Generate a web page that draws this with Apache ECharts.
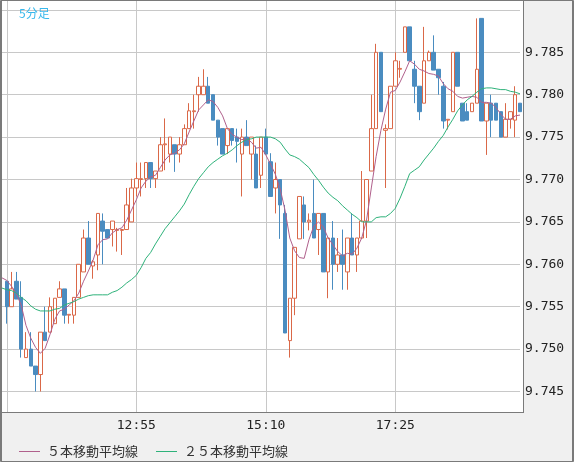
<!DOCTYPE html>
<html>
<head>
<meta charset="utf-8">
<script src="https://cdn.jsdelivr.net/npm/echarts@6/dist/echarts.min.js"></script>
<style>
  html, body { margin: 0; padding: 0; background: #f0f0f0; }
  #chart { width: 574px; height: 462px; }
</style>
</head>
<body>
<div id="chart"></div>
<script>
// 5分足 categories, 10:35 .. 19:35
var times = [];
for (var i = 0; i < 109; i++) {
  var m = 10 * 60 + 35 + i * 5;
  times.push(Math.floor(m / 60) + ':' + ('0' + (m % 60)).slice(-2));
}

// [open, close, low, high]
var candles = ['-',
  [9.7580, 9.7550, 9.7530, 9.7580], [9.7550, 9.7571, 9.7550, 9.7591], [9.7580, 9.7559, 9.7559, 9.7591],
  [9.7561, 9.7500, 9.7490, 9.7580], [9.7490, 9.7500, 9.7490, 9.7520], [9.7500, 9.7480, 9.7480, 9.7520],
  [9.7480, 9.7470, 9.7450, 9.7480], [9.7470, 9.7520, 9.7450, 9.7520], [9.7520, 9.7510, 9.7510, 9.7550],
  [9.7520, 9.7550, 9.7520, 9.7561], [9.7530, 9.7560, 9.7530, 9.7560], [9.7561, 9.7571, 9.7561, 9.7580],
  [9.7571, 9.7540, 9.7530, 9.7571], [9.7540, 9.7541, 9.7530, 9.7541], [9.7540, 9.7561, 9.7530, 9.7561],
  [9.7561, 9.7600, 9.7561, 9.7600], [9.7591, 9.7631, 9.7591, 9.7641], [9.7631, 9.7600, 9.7600, 9.7651],
  [9.7598, 9.7603, 9.7583, 9.7605], [9.7611, 9.7660, 9.7593, 9.7660], [9.7651, 9.7639, 9.7600, 9.7660],
  [9.7641, 9.7631, 9.7631, 9.7641], [9.7641, 9.7651, 9.7621, 9.7651], [9.7640, 9.7641, 9.7615, 9.7643],
  [9.7640, 9.7641, 9.7611, 9.7641], [9.7641, 9.7670, 9.7641, 9.7690], [9.7650, 9.7690, 9.7650, 9.7701],
  [9.7690, 9.7701, 9.7680, 9.7720], [9.7700, 9.7701, 9.7680, 9.7720], [9.7701, 9.7720, 9.7690, 9.7720],
  [9.7720, 9.7701, 9.7690, 9.7720], [9.7701, 9.7710, 9.7690, 9.7710], [9.7710, 9.7741, 9.7710, 9.7750],
  [9.7741, 9.7742, 9.7711, 9.7772], [9.7730, 9.7750, 9.7720, 9.7750], [9.7741, 9.7730, 9.7709, 9.7741],
  [9.7730, 9.7741, 9.7720, 9.7750], [9.7741, 9.7760, 9.7741, 9.7765], [9.7760, 9.7781, 9.7760, 9.7790],
  [9.7780, 9.7781, 9.7760, 9.7800], [9.7800, 9.7810, 9.7780, 9.7821], [9.7800, 9.7810, 9.7800, 9.7830],
  [9.7810, 9.7790, 9.7790, 9.7821], [9.7800, 9.7770, 9.7770, 9.7800], [9.7770, 9.7750, 9.7740, 9.7770],
  [9.7760, 9.7730, 9.7730, 9.7760], [9.7740, 9.7760, 9.7730, 9.7760], [9.7760, 9.7746, 9.7740, 9.7760],
  [9.7750, 9.7745, 9.7720, 9.7760], [9.7730, 9.7750, 9.7680, 9.7760], [9.7750, 9.7740, 9.7740, 9.7770],
  [9.7730, 9.7750, 9.7700, 9.7750], [9.7730, 9.7690, 9.7690, 9.7740], [9.7705, 9.7750, 9.7690, 9.7750],
  [9.7750, 9.7730, 9.7730, 9.7760], [9.7721, 9.7680, 9.7680, 9.7731], [9.7690, 9.7700, 9.7660, 9.7720],
  [9.7700, 9.7670, 9.7630, 9.7700], [9.7660, 9.7519, 9.7519, 9.7670], [9.7510, 9.7560, 9.7490, 9.7560],
  [9.7560, 9.7620, 9.7540, 9.7620], [9.7630, 9.7680, 9.7630, 9.7680], [9.7670, 9.7650, 9.7630, 9.7680],
  [9.7650, 9.7652, 9.7640, 9.7660], [9.7660, 9.7631, 9.7631, 9.7700], [9.7641, 9.7660, 9.7611, 9.7660],
  [9.7660, 9.7591, 9.7591, 9.7660], [9.7591, 9.7631, 9.7560, 9.7631], [9.7631, 9.7600, 9.7570, 9.7651],
  [9.7600, 9.7611, 9.7591, 9.7631], [9.7611, 9.7600, 9.7570, 9.7641], [9.7591, 9.7631, 9.7570, 9.7631],
  [9.7631, 9.7611, 9.7611, 9.7660], [9.7611, 9.7631, 9.7591, 9.7631], [9.7631, 9.7651, 9.7631, 9.7710],
  [9.7651, 9.7700, 9.7631, 9.7700], [9.7710, 9.7760, 9.7710, 9.7800], [9.7760, 9.7850, 9.7760, 9.7860],
  [9.7850, 9.7780, 9.7780, 9.7850], [9.7758, 9.7760, 9.7690, 9.7765], [9.7760, 9.7810, 9.7760, 9.7810],
  [9.7810, 9.7840, 9.7810, 9.7850], [9.7830, 9.7831, 9.7820, 9.7840], [9.7850, 9.7880, 9.7850, 9.7880],
  [9.7880, 9.7840, 9.7840, 9.7880], [9.7830, 9.7810, 9.7790, 9.7840], [9.7810, 9.7780, 9.7770, 9.7810],
  [9.7790, 9.7840, 9.7790, 9.7880], [9.7840, 9.7850, 9.7840, 9.7852], [9.7850, 9.7829, 9.7829, 9.7870],
  [9.7830, 9.7820, 9.7800, 9.7830], [9.7810, 9.7769, 9.7760, 9.7815], [9.7770, 9.7771, 9.7759, 9.7771],
  [9.7780, 9.7850, 9.7780, 9.7850], [9.7850, 9.7810, 9.7810, 9.7850], [9.7790, 9.7769, 9.7769, 9.7790],
  [9.7780, 9.7770, 9.7770, 9.7790], [9.7780, 9.7790, 9.7780, 9.7790], [9.7790, 9.7830, 9.7790, 9.7890],
  [9.7890, 9.7769, 9.7769, 9.7890], [9.7769, 9.7790, 9.7729, 9.7790], [9.7790, 9.7770, 9.7750, 9.7800],
  [9.7790, 9.7770, 9.7770, 9.7790], [9.7780, 9.7750, 9.7750, 9.7780], [9.7750, 9.7771, 9.7750, 9.7790],
  [9.7771, 9.7780, 9.7760, 9.7780], [9.7770, 9.7800, 9.7750, 9.7810], [9.7790, 9.7780, 9.7780, 9.7790]
];

var ma5 = [
  9.7584, 9.7581, 9.7574, 9.7565, 9.7552, 9.7528, 9.7513, 9.7502, 9.7495, 9.7501,
  9.7517, 9.7535, 9.7545, 9.7547, 9.7552, 9.7557, 9.7566, 9.7580, 9.7592, 9.7605,
  9.7623, 9.7629, 9.7630, 9.7637, 9.7641, 9.7643, 9.7652, 9.7664, 9.7676, 9.7690,
  9.7698, 9.7703, 9.7705, 9.7714, 9.7723, 9.7729, 9.7731, 9.7735, 9.7742, 9.7756,
  9.7769, 9.7782, 9.7788, 9.7794, 9.7792, 9.7785, 9.7775, 9.7760, 9.7753, 9.7750,
  9.7747, 9.7748, 9.7744, 9.7737, 9.7738, 9.7729, 9.7718, 9.7706, 9.7689, 9.7664,
  9.7631, 9.7616, 9.7608, 9.7607, 9.7629, 9.7645, 9.7650, 9.7644, 9.7631, 9.7623,
  9.7615, 9.7610, 9.7613, 9.7612, 9.7619, 9.7631, 9.7652, 9.7690, 9.7727, 9.7758,
  9.7783, 9.7803, 9.7805, 9.7815, 9.7827, 9.7840, 9.7836, 9.7830, 9.7828, 9.7825,
  9.7824, 9.7822, 9.7813, 9.7807, 9.7804, 9.7798, 9.7796, 9.7797, 9.7798, 9.7797,
  9.7791, 9.7791, 9.7790, 9.7785, 9.7777, 9.7771, 9.7771, 9.7775, 9.7776
];

var ma25 = [
  9.7572, 9.7570, 9.7569, 9.7566, 9.7561, 9.7557, 9.7551, 9.7547, 9.7545, 9.7545,
  9.7545, 9.7547, 9.7548, 9.7552, 9.7554, 9.7556, 9.7559, 9.7561, 9.7563, 9.7564,
  9.7564, 9.7564, 9.7564, 9.7567, 9.7569, 9.7573, 9.7578, 9.7582, 9.7587, 9.7596,
  9.7607, 9.7614, 9.7624, 9.7633, 9.7642, 9.7649, 9.7656, 9.7663, 9.7671, 9.7682,
  9.7692, 9.7701, 9.7708, 9.7715, 9.7720, 9.7724, 9.7728, 9.7731, 9.7735, 9.7740,
  9.7744, 9.7747, 9.7748, 9.7750, 9.7750, 9.7750, 9.7750, 9.7748, 9.7744, 9.7736,
  9.7729, 9.7727, 9.7724, 9.7719, 9.7714, 9.7706, 9.7699, 9.7691, 9.7684, 9.7679,
  9.7675, 9.7669, 9.7664, 9.7659, 9.7655, 9.7650, 9.7650, 9.7650, 9.7655, 9.7656,
  9.7656, 9.7660, 9.7666, 9.7678, 9.7692, 9.7707, 9.7711, 9.7715, 9.7723, 9.7730,
  9.7737, 9.7745, 9.7752, 9.7762, 9.7771, 9.7781, 9.7788, 9.7794, 9.7798, 9.7803,
  9.7807, 9.7808, 9.7808, 9.7807, 9.7806, 9.7806, 9.7804, 9.7803, 9.7801
];

var yTicks = [9.745, 9.750, 9.755, 9.760, 9.765, 9.770, 9.775, 9.780, 9.785, 9.790];
var yLabels = [9.745, 9.750, 9.755, 9.760, 9.765, 9.770, 9.775, 9.780, 9.785];

var upColor = '#da6848';
var downColor = '#4a8cc0';

var myChart = echarts.init(document.getElementById('chart'));

var option = {
  animation: false,
  backgroundColor: '#f0f0f0',
  title: {
    text: '5分足',
    left: 14,
    top: 2,
    textStyle: { fontSize: 12, fontWeight: 'normal', color: '#38b8ec', fontFamily: 'Noto Sans CJK JP' }
  },
  legend: {
    left: 14,
    top: 440,
    itemGap: 18,
    itemWidth: 21,
    itemHeight: 1,
    icon: 'rect',
    textStyle: { fontSize: 13, color: '#333', fontFamily: 'Noto Sans CJK JP', padding: [0, 0, 0, 2] },
    data: ['５本移動平均線', '２５本移動平均線']
  },
  grid: { left: 2, top: 1, width: 518, height: 411 },
  xAxis: {
    type: 'category',
    data: times,
    boundaryGap: false,
    axisLine: { show: false },
    axisTick: { show: false },
    axisLabel: {
      margin: 7,
      fontSize: 13,
      color: '#222',
      fontFamily: 'DejaVu Sans Mono',
      interval: function(idx) { return idx > 1 && (idx - 1) % 27 === 0; }
    },
    splitLine: {
      show: true,
      interval: function(idx) { return (idx - 1) % 27 === 0; },
      lineStyle: { color: '#c8c8c8', width: 1 }
    }
  },
  yAxis: {
    type: 'value',
    position: 'right',
    scale: true,
    min: 9.742583,
    max: 9.79105,
    axisLine: { show: false },
    axisTick: { show: false, customValues: yTicks },
    axisLabel: {
      customValues: yLabels,
      margin: 5,
      fontSize: 13,
      color: '#222',
      fontFamily: 'DejaVu Sans Mono',
      formatter: function(v) { return v.toFixed(3); }
    },
    splitLine: { show: true, lineStyle: { color: '#c8c8c8', width: 1 } }
  },
  graphic: [
    { type: 'rect', z: -10, shape: { x: 2, y: 1, width: 521, height: 411 }, style: { fill: '#fff' } },
    { type: 'line', z: 100, shape: { x1: 523.5, y1: 0, x2: 523.5, y2: 412.5 }, style: { stroke: '#7a7a7a', lineWidth: 1 } },
    { type: 'line', z: 100, shape: { x1: 0, y1: 412.5, x2: 524, y2: 412.5 }, style: { stroke: '#7a7a7a', lineWidth: 1 } },
    { type: 'rect', z: 100, shape: { x: 0.5, y: 0.5, width: 573, height: 461 }, style: { fill: null, stroke: '#7a7a7a', lineWidth: 1 } },
    { type: 'line', z: 100, shape: { x1: 1.5, y1: 0, x2: 1.5, y2: 462 }, style: { stroke: '#7a7a7a', lineWidth: 1 } },
    { type: 'line', z: 100, shape: { x1: 572.5, y1: 0, x2: 572.5, y2: 462 }, style: { stroke: '#7a7a7a', lineWidth: 1 } }
  ],
  series: [
    {
      type: 'candlestick',
      data: candles,
      barWidth: 4,
      clip: false,
      itemStyle: {
        color: '#ffffff',
        color0: downColor,
        borderColor: upColor,
        borderColor0: downColor,
        borderWidth: 1
      }
    },
    {
      name: '５本移動平均線',
      type: 'line',
      data: ma5,
      showSymbol: false,
      symbol: 'none',
      lineStyle: { color: '#b0608c', width: 1 },
      itemStyle: { color: '#b0608c' }
    },
    {
      name: '２５本移動平均線',
      type: 'line',
      data: ma25,
      showSymbol: false,
      symbol: 'none',
      lineStyle: { color: '#2eb27a', width: 1 },
      itemStyle: { color: '#2eb27a' }
    }
  ]
};

myChart.setOption(option);
</script>
</body>
</html>
